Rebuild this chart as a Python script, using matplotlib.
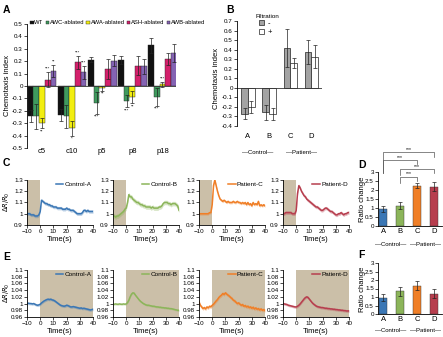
import numpy as np
import matplotlib
matplotlib.use("Agg")
import matplotlib.pyplot as plt
from matplotlib.ticker import FuncFormatter
from matplotlib.patches import Patch

plt.rcParams["font.family"] = ["Liberation Sans", "DejaVu Sans"]

# ---------------- data ----------------
# A: chemotaxis index per supernatant and neuron ablation
a_groups = ["c5", "c10", "p5", "p8", "p18"]
a_strains = ["WT", "AWC-ablated", "AWA-ablated", "ASH-ablated", "AWB-ablated"]
a_wt = [-0.24, -0.235, 0.21, 0.21, 0.33]
a_awc = [-0.245, -0.245, -0.135, -0.12, -0.09]
a_awa = [-0.30, -0.34, -0.02, -0.09, 0.015]
a_ash = [0.05, 0.19, 0.14, 0.165, 0.22]
a_awb = [0.12, 0.11, 0.205, 0.16, 0.265]
a_wt_err = [0.05, 0.05, 0.02, 0.03, 0.06]
a_awc_err = [0.10, 0.09, 0.09, 0.05, 0.07]
a_awa_err = [0.04, 0.06, 0.02, 0.05, 0.02]
a_ash_err = [0.06, 0.05, 0.08, 0.08, 0.05]
a_awb_err = [0.05, 0.05, 0.045, 0.06, 0.07]
a_sig = [["", "", "**", "***", "**"],
         ["", "", "*", "***", "***"],
         ["", "***", "**", "", ""],
         ["", "***", "**", "", ""],
         ["", "***", "***", "", ""]]

# B: chemotaxis index with / without filtration
b_samples = ["A", "B", "C", "D"]
b_unfiltered = [-0.27, -0.255, 0.42, 0.375]
b_unfiltered_err = [0.06, 0.08, 0.20, 0.13]
b_filtered = [-0.20, -0.275, 0.26, 0.325]
b_filtered_err = [0.06, 0.06, 0.05, 0.12]

# C / E: calcium imaging traces (dR/R0), 1 s sampling
time_s = list(range(-10, 41))
c_names = ["Control-A", "Control-B", "Patient-C", "Patient-D"]
c_ctrl_a = [1.00, 1.00, 1.00, 0.99, 0.99, 0.99, 0.98, 0.98, 0.98, 0.99,
            1.02, 1.12, 1.11, 1.10, 1.09, 1.09, 1.08, 1.08, 1.07, 1.07,
            1.06, 1.06, 1.06, 1.05, 1.05, 1.05, 1.05, 1.04, 1.04, 1.04,
            1.05, 1.04, 1.04, 1.03, 1.03, 1.03, 1.02, 1.01, 1.00, 1.00,
            1.00, 1.00, 1.01, 1.03, 1.03, 1.02, 1.03, 1.02, 1.02, 1.02, 1.02]
c_ctrl_b = [0.98, 0.98, 0.97, 0.98, 0.98, 0.99, 1.00, 1.01, 1.02, 1.04,
            1.05, 1.10, 1.17, 1.15, 1.15, 1.13, 1.12, 1.11, 1.10, 1.10,
            1.09, 1.08, 1.08, 1.07, 1.07, 1.06, 1.06, 1.06, 1.06, 1.05,
            1.06, 1.05, 1.05, 1.05, 1.05, 1.06, 1.06, 1.07, 1.09, 1.10,
            1.10, 1.10, 1.09, 1.09, 1.08, 1.09, 1.09, 1.09, 1.08, 1.07, 1.03]
c_pat_c = [1.00, 1.00, 1.00, 1.00, 1.00, 1.00, 1.00, 1.00, 1.01, 1.01,
           1.08, 1.25, 1.30, 1.25, 1.20, 1.16, 1.13, 1.12, 1.11, 1.12,
           1.11, 1.10, 1.11, 1.10, 1.10, 1.10, 1.11, 1.10, 1.10, 1.11,
           1.10, 1.10, 1.09, 1.10, 1.09, 1.10, 1.08, 1.10, 1.08, 1.09,
           1.07, 1.10, 1.08, 1.09, 1.08, 1.11, 1.07, 1.08, 1.07, 1.08, 1.07]
c_pat_d = [1.00, 1.00, 1.01, 1.01, 1.01, 1.01, 1.01, 1.00, 1.00, 1.00,
           1.03, 1.18, 1.25, 1.23, 1.20, 1.18, 1.16, 1.15, 1.13, 1.12,
           1.11, 1.10, 1.09, 1.08, 1.07, 1.06, 1.06, 1.05, 1.04, 1.03,
           1.03, 1.04, 1.05, 1.05, 1.04, 1.03, 1.02, 1.02, 1.01, 1.00,
           0.99, 0.99, 1.00, 1.00, 1.01, 1.00, 0.99, 1.00, 1.00, 1.01, 1.01]
c_sem = [0.015, 0.02, 0.012, 0.015]

e_ctrl_a = [1.000, 1.001, 1.000, 1.000, 0.999, 1.000, 0.998, 0.996, 0.995, 0.996,
            0.998, 1.002, 1.005, 1.008, 1.010, 1.012, 1.013, 1.012, 1.013, 1.011,
            1.010, 1.008, 1.005, 1.002, 0.999, 0.996, 0.994, 0.993, 0.992, 0.993,
            0.995, 0.994, 0.992, 0.990, 0.990, 0.991, 0.990, 0.989, 0.988, 0.987,
            0.986, 0.987, 0.985, 0.986, 0.985, 0.984, 0.983, 0.982, 0.981, 0.982, 0.983]
e_ctrl_b = [0.998, 0.998, 0.999, 0.998, 0.998, 0.999, 0.998, 0.998, 0.999, 0.998,
            0.999, 1.003, 1.010, 1.020, 1.028, 1.032, 1.031, 1.025, 1.020, 1.015,
            1.010, 1.006, 1.003, 1.000, 0.998, 0.996, 0.995, 0.995, 0.994, 0.993,
            0.992, 0.992, 0.991, 0.990, 0.990, 0.989, 0.989, 0.988, 0.988, 0.987,
            0.987, 0.986, 0.986, 0.985, 0.985, 0.984, 0.983, 0.982, 0.981, 0.980, 0.980]
e_pat_c = [1.005, 0.995, 0.990, 0.985, 0.988, 0.984, 0.990, 0.987, 0.992, 0.990,
           0.995, 0.998, 1.003, 1.008, 1.012, 1.018, 1.022, 1.025, 1.030, 1.027,
           1.032, 1.028, 1.025, 1.022, 1.018, 1.015, 1.010, 1.008, 1.004, 1.000,
           1.002, 0.998, 0.995, 0.997, 0.992, 0.994, 0.990, 0.992, 0.988, 0.990,
           0.986, 0.989, 0.984, 0.987, 0.983, 0.985, 0.981, 0.984, 0.980, 0.982, 0.979]
e_pat_d = [1.000, 0.999, 0.998, 0.997, 0.995, 0.994, 0.993, 0.992, 0.991, 0.990,
           0.990, 0.992, 0.995, 0.999, 1.004, 1.009, 1.014, 1.018, 1.020, 1.018,
           1.013, 1.008, 1.003, 0.999, 0.996, 0.993, 0.991, 0.990, 0.989, 0.988,
           0.988, 0.987, 0.986, 0.986, 0.985, 0.985, 0.984, 0.984, 0.983, 0.983,
           0.982, 0.982, 0.981, 0.981, 0.980, 0.980, 0.979, 0.979, 0.978, 0.978, 0.978]
e_sem = [0.004, 0.003, 0.005, 0.004]

# D / F: ratio change summary
d_ratio = [0.95, 1.12, 2.25, 2.17]
d_err = [0.15, 0.20, 0.15, 0.25]
f_ratio = [0.97, 1.33, 1.67, 1.20]
f_err = [0.20, 0.25, 0.28, 0.25]

# ---------------- style ----------------
W, H = 443, 337
fig = plt.figure(figsize=(W / 100, H / 100), dpi=100)
TS = 4.5      # tick label size
LS = 5.5      # axis label size


def rect(x0, y0, x1, y1):
    return [x0 / W, 1 - y1 / H, (x1 - x0) / W, (y1 - y0) / H]


def fx(x):
    return x / W


def fy(y):
    return 1 - y / H


def style(ax):
    for s in ["top", "right"]:
        ax.spines[s].set_visible(False)
    for s in ["left", "bottom"]:
        ax.spines[s].set_linewidth(0.6)
    ax.tick_params(labelsize=TS, length=2, width=0.5, pad=1)


def num(v, pos=None):
    if abs(v) < 1e-9:
        return "0"
    return f"{v:.2f}".rstrip("0").rstrip(".")


def panel(x, y, t):
    fig.text(fx(x), fy(y), t, fontsize=7.5, fontweight="bold", ha="left", va="center")


trace_colors = ["#3b77b5", "#8cb55a", "#f07f27", "#b73e4e"]
shade = "#cbbfa8"
err_kw = dict(elinewidth=0.5, capsize=1.2, capthick=0.5, ecolor="#222222")

# ---------------- A ----------------
axA = fig.add_axes(rect(27, 24, 176, 148))
style(axA)
a_vals = [a_wt, a_awc, a_awa, a_ash, a_awb]
a_errs = [a_wt_err, a_awc_err, a_awa_err, a_ash_err, a_awb_err]
a_cols = ["#111111", "#3f9a5e", "#f2ee10", "#d3206b", "#8463b3"]
xg = np.arange(len(a_groups))
bw = 0.19
for k in range(5):
    xs = xg + (k - 2) * bw
    axA.bar(xs, a_vals[k], bw, color=a_cols[k], edgecolor="#222222", linewidth=0.3,
            yerr=a_errs[k], error_kw=err_kw, label=a_strains[k])
    for g in range(len(a_groups)):
        s = a_sig[g][k]
        if s:
            v, e = a_vals[k][g], a_errs[k][g]
            yy = v + e + 0.01 if v > 0 else v - e - 0.01
            axA.text(xs[g], yy, s, fontsize=3.2, ha="center",
                     va="bottom" if v > 0 else "top")
axA.axhline(0, color="#333333", lw=0.6)
axA.set_xlim(-0.5, 4.45)
axA.set_ylim(-0.5, 0.5)
axA.set_yticks(np.round(np.arange(-0.5, 0.51, 0.1), 1))
axA.yaxis.set_major_formatter(FuncFormatter(num))
axA.spines["bottom"].set_visible(False)
axA.set_xticks(xg)
axA.set_xticklabels(a_groups, fontsize=5.5)
axA.tick_params(axis="x", length=0, pad=0)
fig.text(fx(8), fy(85), "Chemotaxis index", rotation=90, fontsize=LS,
         ha="center", va="center")
fig.legend(handles=[Patch(facecolor=c, edgecolor="#222222", linewidth=0.3, label=n)
                    for c, n in zip(a_cols, a_strains)],
           loc="center left", bbox_to_anchor=(fx(30), fy(23)), ncol=5, frameon=False,
           fontsize=4.2, handlelength=0.6, handleheight=0.6, handletextpad=0.15,
           columnspacing=0.35, borderpad=0, borderaxespad=0)
panel(3, 10, "A")

# ---------------- B ----------------
axB = fig.add_axes(rect(237, 21, 322, 126))
style(axB)
xb = np.arange(len(b_samples))
bwb = 0.32
axB.bar(xb - bwb / 2, b_unfiltered, bwb, color="#a3a3a3", edgecolor="#222222",
        linewidth=0.5, yerr=b_unfiltered_err, error_kw=err_kw)
axB.bar(xb + bwb / 2, b_filtered, bwb, color="white", edgecolor="#222222",
        linewidth=0.5, yerr=b_filtered_err, error_kw=err_kw)
axB.axhline(0, color="#333333", lw=0.6)
axB.set_xlim(-0.52, 3.5)
axB.set_ylim(-0.4, 0.7)
axB.set_yticks(np.round(np.arange(-0.4, 0.71, 0.1), 1))
axB.yaxis.set_major_formatter(FuncFormatter(num))
axB.spines["bottom"].set_visible(False)
axB.set_xticks(xb)
axB.set_xticklabels(b_samples, fontsize=5.5)
axB.tick_params(axis="x", length=0, pad=5)
fig.text(fx(217), fy(78), "Chemotaxis index", rotation=90, fontsize=LS,
         ha="center", va="center")
fig.text(fx(256), fy(16), "Filtration", fontsize=4.5, ha="left", va="center")
fig.legend(handles=[Patch(facecolor="#a3a3a3", edgecolor="#222222", linewidth=0.5, label="-"),
                    Patch(facecolor="white", edgecolor="#222222", linewidth=0.5, label="+")],
           loc="upper left", bbox_to_anchor=(fx(259), fy(20)), frameon=False,
           fontsize=5.5, handlelength=0.7, handleheight=0.7, handletextpad=0.4,
           labelspacing=0.2, borderpad=0, borderaxespad=0)
fig.text(fx(258), fy(152), "\u2014Control\u2014", fontsize=4.3, ha="center", va="center")
fig.text(fx(301), fy(152), "\u2014Patient\u2014", fontsize=4.3, ha="center", va="center")
panel(226, 10, "B")

# ---------------- C and E ----------------
cx = [(27, 93), (113, 179), (199, 265), (283, 349)]
c_traces = [c_ctrl_a, c_ctrl_b, c_pat_c, c_pat_d]
e_traces = [e_ctrl_a, e_ctrl_b, e_pat_c, e_pat_d]
t = np.array(time_s)


def trace_panel(x0, x1, y0, y1, vals, sem, col, name, ylim, yticks, span):
    ax = fig.add_axes(rect(x0, y0, x1, y1))
    style(ax)
    ax.axvspan(span[0], span[1], color=shade, lw=0, zorder=0)
    v = np.array(vals)
    ax.fill_between(t, v - sem, v + sem, color=col, alpha=0.35, lw=0, zorder=1)
    ax.plot(t, v, color=col, lw=1.1, zorder=2, label=name)
    ax.set_xlim(-10, 40)
    ax.set_ylim(*ylim)
    ax.set_xticks(range(-10, 41, 10))
    ax.set_yticks(yticks)
    ax.yaxis.set_major_formatter(FuncFormatter(num))
    ax.set_xlabel("Time(s)", fontsize=LS, labelpad=1.5)
    ax.legend(loc="upper right", frameon=False, fontsize=4.6, handlelength=1.2,
              handletextpad=0.2, borderpad=0.1, borderaxespad=0.1)
    return ax


for i in range(4):
    trace_panel(cx[i][0], cx[i][1], 180, 225, c_traces[i], c_sem[i], trace_colors[i],
                c_names[i], (0.9, 1.3), [0.9, 1.0, 1.1, 1.2, 1.3], (-10, 0))
    trace_panel(cx[i][0], cx[i][1], 270, 317, e_traces[i], e_sem[i], trace_colors[i],
                c_names[i], (0.96, 1.1), np.round(np.arange(0.96, 1.101, 0.02), 2),
                (0, 40))
fig.text(fx(7), fy(202), r"$\Delta R/R_0$", rotation=90, fontsize=4.8, ha="center", va="center")
fig.text(fx(7), fy(293), r"$\Delta R/R_0$", rotation=90, fontsize=4.8, ha="center", va="center")
panel(3, 163, "C")
panel(3, 257, "E")


# ---------------- D and F ----------------
def ratio_panel(y0, y1, vals, errs, ylab_y):
    ax = fig.add_axes(rect(378, y0, 442, y1))
    style(ax)
    xr = np.arange(len(b_samples))
    ax.bar(xr, vals, 0.47, color=trace_colors, edgecolor="#333333", linewidth=0.3,
           yerr=errs, error_kw=err_kw)
    ax.set_xlim(-0.32, 3.45)
    ax.set_ylim(0, 3)
    ax.set_yticks(np.arange(0, 3.01, 0.5))
    ax.yaxis.set_major_formatter(FuncFormatter(num))
    ax.set_xticks(xr)
    ax.set_xticklabels(b_samples, fontsize=5.5)
    ax.tick_params(axis="x", length=0, pad=1.5)
    fig.text(fx(362), fy(ylab_y), "Ratio change", rotation=90, fontsize=LS,
             ha="center", va="center")
    return ax


axD = ratio_panel(172, 226, d_ratio, d_err, 199)
axF = ratio_panel(263, 314, f_ratio, f_err, 289)

# significance brackets on D
brackets = [(0, 3, 4.1, 2.95, 3.85), (0, 2, 3.65, 2.95, 3.45),
            (1, 3, 3.15, 2.85, 2.95), (1, 2, 2.72, 2.4, 2.5)]
for a, b, h, la, lb in brackets:
    axD.plot([a, a, b, b], [la, h, h, lb], color="#555555", lw=0.5, clip_on=False)
    axD.text((a + b) / 2, h + 0.03, "***", fontsize=3.6, ha="center", va="bottom",
             clip_on=False)

fig.text(fx(391), fy(245), "\u2014Control\u2014", fontsize=4.3, ha="center", va="center")
fig.text(fx(425), fy(245), "\u2014Patient\u2014", fontsize=4.3, ha="center", va="center")
fig.text(fx(391), fy(330), "\u2014Control\u2014", fontsize=4.3, ha="center", va="center")
fig.text(fx(425), fy(330), "\u2014Patient\u2014", fontsize=4.3, ha="center", va="center")
panel(358, 165, "D")
panel(358, 255, "F")

fig.savefig("out.png", dpi=100)
